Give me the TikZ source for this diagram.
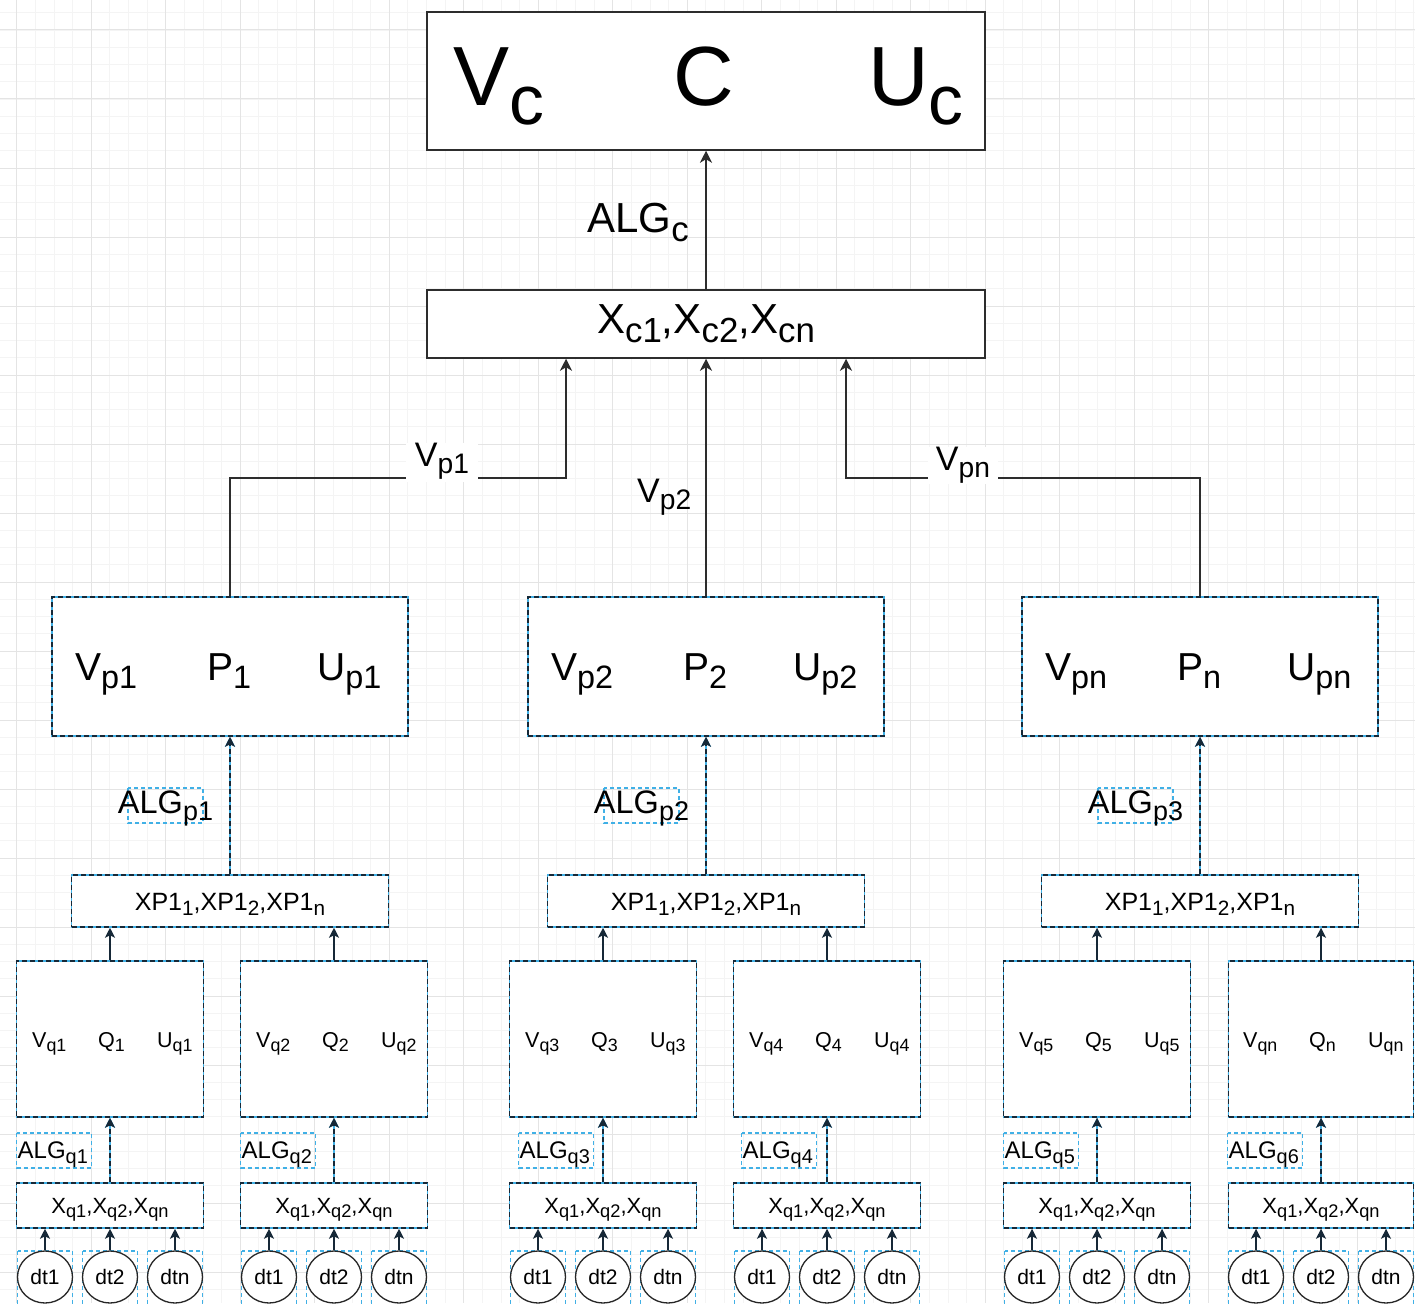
\documentclass[tikz,border=0pt]{standalone}
\usepackage{fontspec}
\setmainfont{Liberation Sans}
\usepackage{graphicx}
\usetikzlibrary{arrows.meta,shapes.geometric}
\definecolor{selblue}{RGB}{64,176,230}
\definecolor{boxgray}{RGB}{45,45,45}
\definecolor{linedark}{RGB}{22,40,55}
\definecolor{gridmaj}{RGB}{228,228,228}
\definecolor{gridmin}{RGB}{244,244,244}
\newcommand\setfs[1]{\fontsize{#1}{#1}\selectfont}
\newcommand\dsub[1]{\raisebox{-0.22em}{\scalebox{0.83}{#1}}}
\begin{document}
\begin{tikzpicture}[x=1pt,y=-1pt,
  solidbox/.style={rectangle, draw=boxgray, line width=1.5pt, fill=white, inner sep=0pt},
  selbox/.style={rectangle, draw=selblue, line width=1.5pt, fill=white, inner sep=0pt,
     postaction={draw=linedark, line width=1.5pt, dash pattern=on 5pt off 3pt}},
  seldash/.style={draw=selblue, line width=1.2pt, dash pattern=on 4pt off 3pt},
  txt/.style={inner sep=0pt, text=black},
  dtnode/.style={ellipse, draw=black!85, line width=1.3pt, fill=white, inner sep=0pt,
     minimum width=55pt, minimum height=52pt, font=\setfs{21}},
  tarr/.style={draw=boxgray, line width=1.5pt, -{Stealth[length=12pt,width=12pt,inset=3.5pt]}},
  larr/.style={draw=linedark, line width=1.7pt, -{Stealth[length=10pt,width=10pt,inset=2.5pt]}},
  dlarr/.style={draw=linedark, line width=1.7pt, dash pattern=on 5pt off 3pt,
     preaction={draw=selblue, line width=1.7pt, solid},
     -{Stealth[length=10pt,width=10pt,inset=2.5pt]}},
  lbl/.style={inner sep=0pt, fill=white, text=black, font=\setfs{34}}
]
\useasboundingbox (0,0) rectangle (1415,1303);
\clip (0,0) rectangle (1415,1303);
\fill[white] (0,0) rectangle (1415,1303);
% grid
\foreach \i in {-4,...,76} {\draw[gridmin, line width=0.8pt] ({16.7+\i*18.625},0) -- ++(0,1303);}
\foreach \j in {-2,...,74} {\draw[gridmin, line width=0.8pt] (0,{30+\j*17.25}) -- ++(1415,0);}
\foreach \i in {-1,...,19} {\draw[gridmaj, line width=1pt] ({16.7+\i*74.5},0) -- ++(0,1303);}
\foreach \j in {0,...,18} {\draw[gridmaj, line width=1pt] (0,{30+\j*69}) -- ++(1415,0);}

% top box
\node[solidbox, minimum width=558pt, minimum height=138pt] (top) at (706,81) {};
\node[txt, anchor=base west, font=\setfs{84}] (vc) at (453,106) {V\dsub{c}};
\node[txt, anchor=base, font=\setfs{84}] (cc) at (704,106) {C};
\node[txt, anchor=base west, font=\setfs{84}] (uc) at (868,106) {U\dsub{c}};

% Xc box
\node[solidbox, minimum width=558pt, minimum height=68pt] (xc) at (706,324) {};
\node[txt, anchor=base, font=\setfs{42}] (xct) at (706,333) {X\dsub{c1},X\dsub{c2},X\dsub{cn}};

% P boxes
\foreach \k/\px/\ps/\pn in {1/230/p1/1, 2/706/p2/2, 3/1200/pn/n} {
  \node[selbox, minimum width=356pt, minimum height=139pt] (p\k) at (\px,666.5) {};
  \node[txt, anchor=base west, font=\setfs{39}] (pv\k) at ({\px-155},680) {V\dsub{\ps}};
  \node[txt, anchor=base west, font=\setfs{39}] (pp\k) at ({\px-23},680) {P\dsub{\pn}};
  \node[txt, anchor=base west, font=\setfs{39}] (pu\k) at ({\px+87},680) {U\dsub{\ps}};
  \node[selbox, minimum width=317pt, minimum height=52pt] (xp\k) at (\px,901) {};
  \node[txt, anchor=base, font=\setfs{25}] (xpt\k) at (\px,910) {XP1\dsub{1},XP1\dsub{2},XP1\dsub{n}};
  \draw[seldash] ({\px-102},788) rectangle ({\px-27},823);
  \node[txt, anchor=base, font=\setfs{32.5}] (algp\k) at ({\px-64.5},813) {ALG\dsub{p\k}};
}

% groups
\foreach \g/\gx/\qs/\qn/\ao/\pk/\qw in {1/110/q1/1/0/1/187, 2/334/q2/2/0/1/187, 3/603/q3/3/9/2/187, 4/827/q4/4/8/2/187, 5/1097/q5/5/0/3/187, 6/1321/qn/n/0/3/185} {
  \node[selbox, minimum width=\qw pt, minimum height=156pt] (q\g) at (\gx,1039) {};
  \node[txt, anchor=base west, font=\setfs{21.5}] (qv\g) at ({\gx-78},1047) {V\dsub{\qs}};
  \node[txt, anchor=base west, font=\setfs{21.5}] (qq\g) at ({\gx-12},1047) {Q\dsub{\qn}};
  \node[txt, anchor=base west, font=\setfs{21.5}] (qu\g) at ({\gx+47},1047) {U\dsub{\qs}};
  \draw[seldash] ({\gx-93.5+\ao},1133) rectangle ({\gx-18.5+\ao},1168);
  \node[txt, anchor=base west, font=\setfs{24}] (algq\g) at ({\gx-92.5+\ao},1158) {ALG\dsub{q\g}};
  \node[selbox, minimum width=\qw pt, minimum height=45pt] (x\g) at (\gx,1205.5) {};
  \node[txt, anchor=base, font=\setfs{22}] (xt\g) at (\gx,1213) {X\dsub{q1},X\dsub{q2},X\dsub{qn}};
  \draw[seldash] ({\gx-65-27.5},1251) rectangle ({\gx-65+27.5},1306);
  \draw[seldash] ({\gx-27.5},1251) rectangle ({\gx+27.5},1306);
  \draw[seldash] ({\gx+65-27.5},1251) rectangle ({\gx+65+27.5},1306);
  \node[dtnode] (da\g) at ({\gx-65},1277) {dt1};
  \node[dtnode] (db\g) at (\gx,1277) {dt2};
  \node[dtnode] (dc\g) at ({\gx+65},1277) {dtn};
  \draw[larr] (da\g.north) -- (da\g.north |- x\g.south);
  \draw[larr] (db\g.north) -- (db\g.north |- x\g.south);
  \draw[larr] (dc\g.north) -- (dc\g.north |- x\g.south);
  \draw[dlarr] (x\g.north) -- (q\g.south);
  \draw[larr] (q\g.north) -- (q\g.north |- xp\pk.south);
}

% P level connectors
\foreach \k in {1,2,3} {\draw[dlarr] (xp\k.north) -- (p\k.south);}

% top connectors
\coordinate (j1) at (566,478);
\coordinate (j3) at (846,478);
\draw[tarr] (p1.north) |- (j1) -- (j1 |- xc.south);
\draw[tarr] (p2.north) -- (xc.south);
\draw[tarr] (p3.north) |- (j3) -- (j3 |- xc.south);
\draw[tarr] (xc.north) -- (top.south);

% labels
\node[lbl, anchor=base, minimum width=72pt, text depth=16pt] (lvp1) at (442,466) {V\dsub{p1}};
\node[lbl, anchor=base, minimum width=70pt, text depth=14pt] (lvpn) at (963,470) {V\dsub{pn}};
\node[txt, anchor=base west, font=\setfs{34}] (lvp2) at (637,502) {V\dsub{p2}};
\node[txt, anchor=base west, font=\setfs{42}] (lalgc) at (587,232) {ALG\dsub{c}};
\end{tikzpicture}
\end{document}
